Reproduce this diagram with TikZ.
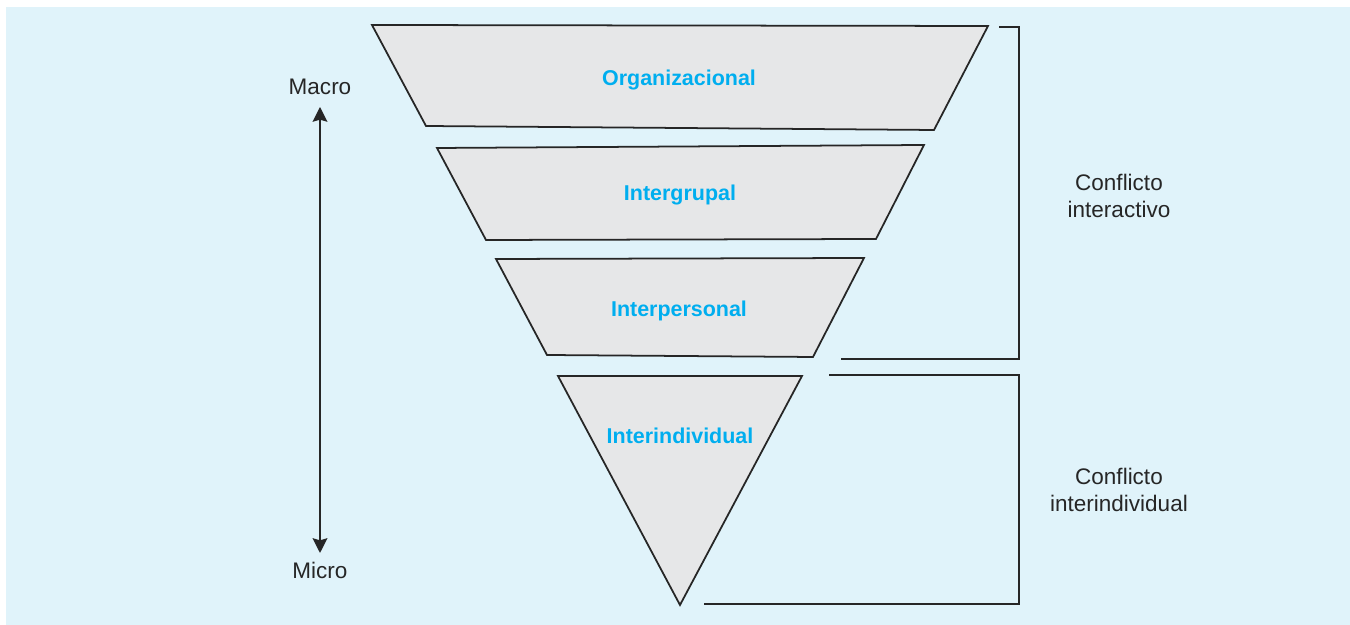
\documentclass[tikz,border=0pt]{standalone}
\usepackage{fontspec}
\setmainfont{Liberation Sans}
\usetikzlibrary{arrows.meta}
\definecolor{bgblue}{HTML}{E0F3FA}
\definecolor{shapegray}{HTML}{E6E7E8}
\definecolor{lblblue}{HTML}{00AEEF}
\tikzset{axistip/.tip={Stealth[length=4.2pt,width=4.2pt,inset=0.6pt]}}
\begin{document}
\begin{tikzpicture}[x=0.01cm,y=-0.01cm,
  level/.style={draw=black!85,line width=0.5pt,fill=shapegray,line join=miter},
  lvltext/.style={text=lblblue,font=\fontsize{6.1}{7}\selectfont\bfseries,inner sep=0pt},
  sidetext/.style={text=black!85,font=\fontsize{6.4}{7.7}\selectfont,align=center,inner sep=0pt},
  bracket/.style={draw=black!85,line width=0.5pt}]
\useasboundingbox (0,0) rectangle (1350,625);
\fill[white] (0,0) rectangle (1350,625);
\fill[bgblue] (6,7) rectangle (1350,625);
% levels
\coordinate (a1) at (372,25); \coordinate (a2) at (988,26);
\coordinate (a3) at (934,130); \coordinate (a4) at (426,126);
\coordinate (b1) at (437,148); \coordinate (b2) at (924,145);
\coordinate (b3) at (876,239); \coordinate (b4) at (486,240);
\coordinate (c1) at (496,259); \coordinate (c2) at (864,258);
\coordinate (c3) at (813,357); \coordinate (c4) at (547,355);
\coordinate (d1) at (558,376); \coordinate (d2) at (802,376);
\coordinate (d3) at (680,605);
\path[level] (a1) -- (a2) -- (a3) -- (a4) -- cycle;
\path[level] (b1) -- (b2) -- (b3) -- (b4) -- cycle;
\path[level] (c1) -- (c2) -- (c3) -- (c4) -- cycle;
\path[level] (d1) -- (d2) -- (d3) -- cycle;
\node[lvltext] (org) at (679,80) {Organizacional};
\node[lvltext] (igr) at (680,195) {Intergrupal};
\node[lvltext] (ipe) at (679,311) {Interpersonal};
\node[lvltext] (iin) at (680,436) {Interindividual};
% macro-micro axis
\node[sidetext] (macro) at (320,87) {Macro};
\node[sidetext] (micro) at (320,570) {Micro};
\coordinate (ax1) at (320,107);
\coordinate (ax2) at (320,553);
\draw[line width=0.5pt,black!85,axistip-axistip] (ax1) -- (ax2);
% brackets
\coordinate (k1) at (999,27); \coordinate (k2) at (1019,27);
\coordinate (k3) at (1019,359); \coordinate (k4) at (841,359);
\coordinate (m1) at (829,375); \coordinate (m2) at (1019,375);
\coordinate (m3) at (1019,604); \coordinate (m4) at (704,604);
\draw[bracket] (k1) -- (k2) -- (k3) -- (k4);
\draw[bracket] (m1) -- (m2) -- (m3) -- (m4);
\node[sidetext] (ci) at (1119,196) {Conflicto\\interactivo};
\node[sidetext] (cin) at (1119,490) {Conflicto\\interindividual};
\end{tikzpicture}
\end{document}
